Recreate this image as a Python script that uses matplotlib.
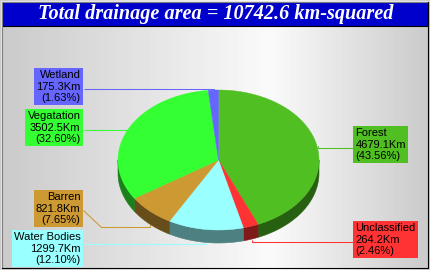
#!/usr/bin/env python3
"""3D pie of drainage area by land-cover class, side labels with leader lines."""
import matplotlib
matplotlib.use("Agg")
import matplotlib.pyplot as plt
import numpy as np
from matplotlib.colors import to_rgb
from matplotlib.patches import Polygon, Rectangle

CATEGORIES = ["Forest", "Unclassified", "Water Bodies", "Barren", "Vegatation", "Wetland"]
AREAS_KM = [4679.1, 264.2, 1299.7, 821.8, 3502.5, 175.3]
SLICE_COLORS = ["#4fbf22", "#ff3333", "#99ffff", "#cc9933", "#33ff33", "#6666ff"]

W, H = 430, 270
CX, CY, RX, RY, DEPTH = 218.5, 160.0, 100.5, 70.0, 13.0

# side, box edge x, box top y, leader y at box, leader y of the run to the slice
LABEL_LAYOUT = {
    "Forest": ("right", 353, 126, 147, 147),
    "Unclassified": ("right", 353, 221, 241, 241),
    "Water Bodies": ("left", 83, 230, 243, 243),
    "Barren": ("left", 83, 190, 210, 227),
    "Vegatation": ("left", 83, 109, 129, 129),
    "Wetland": ("left", 83, 68, 88, 88),
}


def ellipse_xy(t_deg):
    t = np.radians(t_deg)
    return CX + RX * np.cos(t), CY - RY * np.sin(t)


def darker(color, f=0.5):
    return tuple(c * f for c in to_rgb(color))


fig = plt.figure(figsize=(W / 100, H / 100), dpi=100)
ax = fig.add_axes([0, 0, 1, 1])
ax.set_xlim(0, W)
ax.set_ylim(H, 0)
ax.axis("off")

# horizontal grey -> white -> grey background
xs = np.array([0, 270, W])
levels = np.array([0.79, 0.98, 0.79])
row = np.interp(np.arange(W), xs, levels)
ax.imshow(np.tile(row, (H, 1)), cmap="gray", vmin=0, vmax=1,
          extent=(0, W, H, 0), aspect="auto", zorder=0)

# frame
ax.plot([0.5, 0.5, W - 0.5], [H - 0.5, 0.5, 0.5], color="#e8e8e8", lw=0.8, zorder=6)
ax.plot([1.5, 1.5, W - 2.5], [H - 2.5, 1.5, 1.5], color="#808080", lw=0.8, zorder=6)
ax.plot([1.5, W - 2.5, W - 2.5], [H - 2.5, H - 2.5, 1.5], color="black", lw=0.8, zorder=6)
ax.plot([0.5, W - 0.5, W - 0.5], [H - 0.5, H - 0.5, 0.5], color="white", lw=0.8, zorder=6)

# title bar
ax.add_patch(Rectangle((2, 2), W - 4.5, 23.5, fc="#0000cc", ec="black", lw=0.8, zorder=5))
total = sum(AREAS_KM)
ax.text(216, 19.5, f"Total drainage area = {total:.1f} km-squared", color="white",
        family="Liberation Serif", weight="bold", style="italic", fontsize=14.6,
        ha="center", va="baseline", zorder=6)

# slice angles: start at 12 o'clock, clockwise
fractions = np.array(AREAS_KM) / total
starts = 90 - 360 * np.concatenate([[0], np.cumsum(fractions)[:-1]])
ends = starts - 360 * fractions

# side walls (front half of the ellipse: -180..0 deg)
for t0, t1, color in zip(starts, ends, SLICE_COLORS):
    a, b = min(t0, 0), max(t1, -180)
    if a <= b:
        continue
    ts = np.linspace(a, b, 80)
    x, y = ellipse_xy(ts)
    pts = np.column_stack([np.concatenate([x, x[::-1]]),
                           np.concatenate([y, y[::-1] + DEPTH])])
    ax.add_patch(Polygon(pts, closed=True, fc=darker(color), ec=darker(color),
                         lw=0.4, zorder=2))

# top surface
for t0, t1, color in zip(starts, ends, SLICE_COLORS):
    ts = np.linspace(t0, t1, 120)
    x, y = ellipse_xy(ts)
    pts = np.column_stack([np.concatenate([[CX], x]), np.concatenate([[CY], y])])
    ax.add_patch(Polygon(pts, closed=True, fc=color, ec=color, lw=0.3, zorder=3))

# labels and leader lines
for name, value, frac, t0, t1, color in zip(CATEGORIES, AREAS_KM, fractions,
                                            starts, ends, SLICE_COLORS):
    side, bx, top, y_box, y_run = LABEL_LAYOUT[name]
    mid = (t0 + t1) / 2
    axx, ayy = ellipse_xy(mid)
    if np.sin(np.radians(mid)) < 0:
        ayy += DEPTH
    step = 18 if side == "left" else -18
    lx = np.array([bx, bx + step, round(axx), round(axx)]) + 0.5
    ly = np.array([y_box, y_run, y_run, ayy]) + 0.5
    ax.plot(lx, ly, color=color, lw=0.75, zorder=1, solid_capstyle="butt")
    label = f"{name}\n{value:.1f}Km\n({100 * frac:.2f}%)"
    if side == "left":
        tx, ha = bx - 2.5, "right"
    else:
        tx, ha = bx + 2.5, "left"
    ax.text(tx, top + 2, label, ha=ha, va="top", multialignment=ha,
            family="Liberation Sans", fontsize=8, color="black", zorder=5,
            bbox=dict(boxstyle="square,pad=0.2", fc=color, ec="none"))

fig.savefig("out.png", dpi=100)
